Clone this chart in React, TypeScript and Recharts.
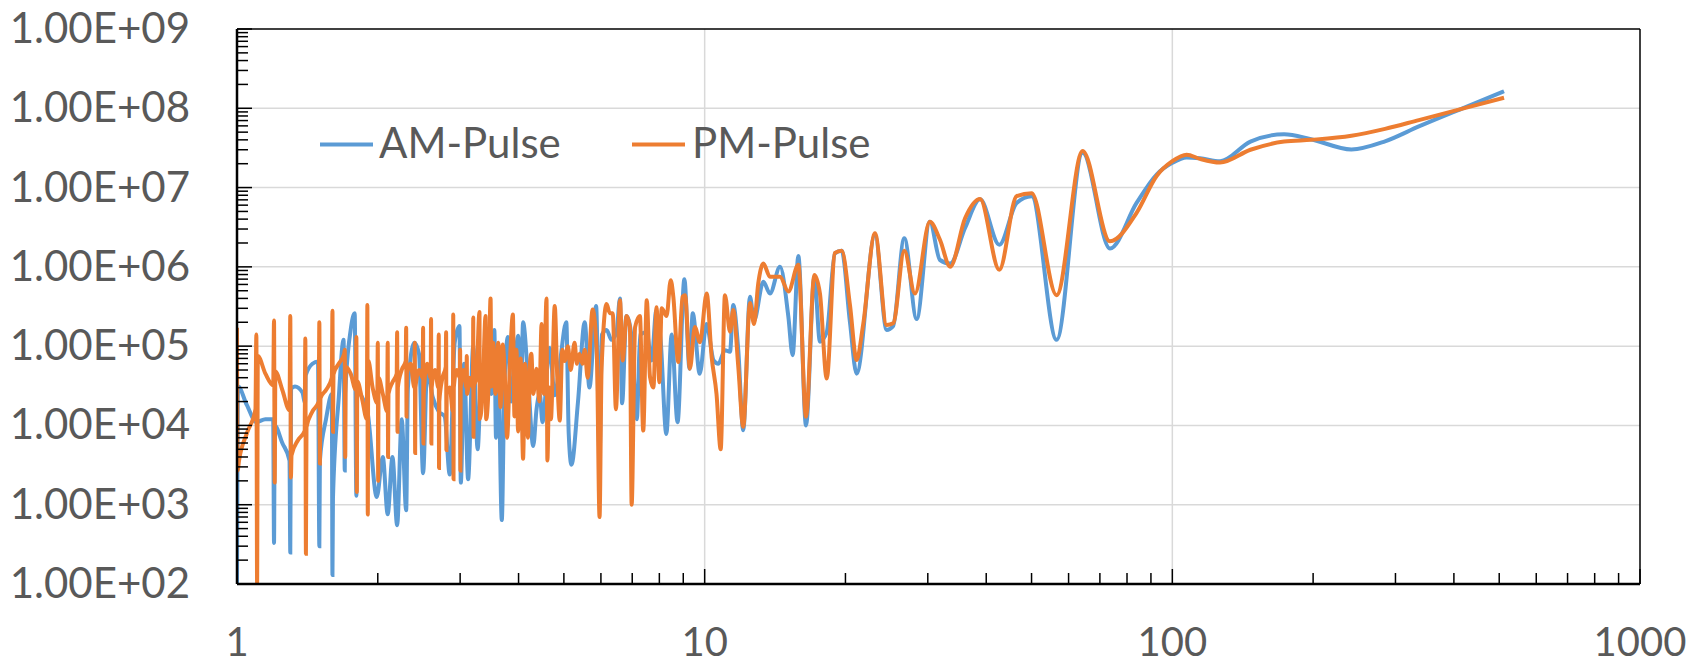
import React from 'react';
import {
  LineChart, Line, XAxis, YAxis, CartesianGrid, ReferenceLine, Legend
} from 'recharts';

// [x, value] pairs (log-log)
const amPulse: [number, number][] = [
  [1.0, 1e2], [1.002, 2.7e3], [1.005, 3.1e4], [1.05, 1.8e4], [1.1, 1.1e4], [1.15, 1.2e4],
  [1.195, 1.2e4], [1.2, 3.3e2], [1.204, 1e4], [1.25, 6e3], [1.295, 3.6e3], [1.3, 2.5e2],
  [1.305, 2.9e4], [1.33, 3.1e4], [1.38, 2.6e4], [1.398, 1.9e4], [1.403, 4.3e4], [1.45, 6e4],
  [1.49, 6.4e4], [1.5, 3e2], [1.504, 3.6e3], [1.55, 1.2e4], [1.595, 2.5e4], [1.6, 1.3e2],
  [1.604, 1.2e3], [1.65, 2.2e4], [1.69, 1.2e5], [1.7, 2.7e3], [1.704, 2.5e4], [1.75, 1.6e5],
  [1.785, 2.6e5], [1.8, 1.3e3], [1.806, 2.6e4], [1.9, 1.5e4], [1.99, 1.25e3], [2.05, 4e3],
  [2.1, 7.6e2], [2.15, 4e3], [2.2, 5.5e2], [2.25, 1.2e4], [2.3, 8.5e2], [2.32, 3e4],
  [2.394, 1.1e5], [2.45, 8e4], [2.5, 2.5e3], [2.55, 5e4], [2.62, 2.3e4], [2.7, 1.5e4],
  [2.78, 1.3e4], [2.85, 2.4e3], [2.92, 1.1e5], [2.99, 1.8e5], [3.01, 1.9e3], [3.06, 6e4],
  [3.12, 2.1e3], [3.2, 1e5], [3.27, 5e3], [3.33, 4e4], [3.39, 2.5e4], [3.44, 5e4],
  [3.5, 2.5e4], [3.55, 1.6e5], [3.58, 7e3], [3.62, 5e4], [3.683, 6.4e2], [3.73, 3e4],
  [3.796, 1.3e5], [3.86, 2e4], [3.93, 6e4], [3.99, 1.35e5], [4.05, 3e4], [4.09, 2e5],
  [4.19, 4e4], [4.3, 5.5e3], [4.37, 1.6e4], [4.44, 2.5e4], [4.5, 1.1e4], [4.66, 9.5e4],
  [4.78, 2.4e4], [4.9, 6e4], [5.06, 2e5], [5.12, 8e3], [5.19, 3.2e3], [5.36, 2e4],
  [5.54, 2e5], [5.67, 3e4], [5.86, 3.2e5], [5.96, 4e3], [6.03, 1.4e5], [6.17, 1.6e5],
  [6.32, 1.2e5], [6.48, 1.5e5], [6.59, 4e5], [6.66, 1.9e4], [6.8, 2.4e5], [6.98, 1.3e5],
  [7.16, 1.2e4], [7.28, 1.4e5], [7.51, 1.5e5], [7.7, 6.6e4], [7.88, 2.8e5], [8.05, 1.2e5],
  [8.28, 7.8e3], [8.5, 1.4e5], [8.75, 1.1e4], [9.05, 7e5], [9.28, 5.2e4], [9.43, 2.6e5],
  [9.76, 4.5e4], [10.09, 1.9e5], [10.45, 6.6e4], [10.7, 6e4], [11.05, 8.9e4], [11.33, 8.5e4],
  [11.51, 3.3e5], [11.8, 8.9e4], [12.09, 8.7e3], [12.5, 4.2e5], [12.75, 2.1e5], [13.35, 6.5e5],
  [13.79, 4.6e5], [14.49, 1e6], [15.1, 2.35e5], [15.42, 7.7e4], [15.86, 1.37e6], [16.47, 1e4],
  [17.16, 7.5e5], [17.64, 1.14e5], [18.24, 1.5e5], [18.99, 1.48e6], [19.63, 1.6e6], [20.45, 2e5],
  [21.13, 4.5e4], [23.13, 2.5e6], [24.5, 1.6e5], [25.3, 1.8e5], [26.72, 2.3e6], [28.4, 2.2e5],
  [30.3, 3.7e6], [31.85, 1.22e6], [33.5, 1.1e6], [36.04, 3.1e6], [38.8, 7.1e6], [42.66, 1.9e6],
  [46.46, 6.4e6], [50.03, 7.8e6], [56.56, 1.2e5], [64.3, 2.75e7], [73.56, 1.7e6], [83.86, 6.4e6],
  [92.55, 1.46e7], [100, 2.05e7], [107.3, 2.4e7], [114.6, 2.34e7], [126.5, 2.15e7], [146.9, 3.8e7],
  [173.4, 4.7e7], [197.9, 4.07e7], [241.5, 3.03e7], [285, 3.83e7], [336.6, 5.9e7], [417.5, 1e8],
  [512, 1.64e8],
];

const pmPulse: [number, number][] = [
  [1.0, 1.7e5], [1.003, 2.7e3], [1.01, 3.6e3], [1.05, 8e3], [1.095, 1.6e4], [1.1, 1.4e5],
  [1.104, 1e2], [1.108, 7.5e4], [1.15, 4.5e4], [1.195, 3.2e4], [1.2, 2.1e5], [1.204, 1.9e3],
  [1.208, 4.8e4], [1.25, 2.8e4], [1.295, 1.55e4], [1.3, 2.4e5], [1.304, 2.2e3], [1.308, 4.2e3],
  [1.35, 6.5e3], [1.395, 8.5e3], [1.4, 1.25e5], [1.404, 2.4e2], [1.408, 9.5e3], [1.45, 1.5e4],
  [1.495, 2e4], [1.5, 2e5], [1.504, 3.3e3], [1.508, 2.2e4], [1.55, 2.8e4], [1.595, 4e4],
  [1.6, 2.8e5], [1.604, 8.3e3], [1.608, 4.4e4], [1.65, 6e4], [1.695, 8e4], [1.7, 9e4],
  [1.704, 4e3], [1.708, 5.5e4], [1.75, 4.5e4], [1.795, 2.8e4], [1.8, 1.3e5], [1.804, 1.45e3],
  [1.808, 3.6e4], [1.85, 2.2e4], [1.895, 1.2e4], [1.9, 3.3e5], [1.904, 7.5e2], [1.908, 6.6e4],
  [1.95, 3e4], [1.995, 1.9e4], [2.0, 1.1e5], [2.004, 2e3], [2.008, 4e4], [2.05, 2.5e4],
  [2.095, 1.5e4], [2.1, 1.1e5], [2.104, 4e3], [2.108, 2.5e4], [2.15, 3.5e4], [2.195, 4.5e4],
  [2.2, 1.5e5], [2.204, 8.3e3], [2.208, 3e4], [2.25, 5e4], [2.295, 6.5e4], [2.3, 1.7e5],
  [2.304, 1.3e4], [2.308, 4.5e4], [2.35, 6e4], [2.395, 3e4], [2.4, 1.1e5], [2.404, 4.5e3],
  [2.408, 3e4], [2.45, 5e4], [2.495, 4e4], [2.5, 1.7e5], [2.504, 5.9e3], [2.508, 2.5e4],
  [2.55, 6e4], [2.595, 4e4], [2.6, 2.2e5], [2.604, 5.9e3], [2.608, 3e4], [2.65, 5e4],
  [2.695, 3e4], [2.7, 1.4e5], [2.704, 2.9e3], [2.708, 2e4], [2.75, 4e4], [2.795, 5.5e4],
  [2.8, 1.5e5], [2.804, 4.9e3], [2.808, 2.5e4], [2.85, 3e4], [2.895, 1.5e4], [2.9, 2.5e5],
  [2.904, 2.1e3], [2.908, 3e4], [2.95, 5e4], [2.995, 4e4], [3.0, 9e4], [3.004, 2.7e3],
  [3.008, 3e4], [3.05, 5e4], [3.095, 3e4], [3.1, 7.5e4], [3.104, 2.5e4], [3.15, 4e4],
  [3.195, 3e4], [3.2, 2.3e5], [3.204, 7.2e3], [3.208, 3e4], [3.25, 4e4], [3.3, 2.7e5],
  [3.304, 1.2e4], [3.35, 2.5e4], [3.4, 2.4e5], [3.41, 1.2e4], [3.45, 3e4], [3.485, 4e5],
  [3.5, 3.1e4], [3.53, 1.1e5], [3.57, 2.5e4], [3.62, 1.1e5], [3.66, 1.7e4], [3.7, 1.05e5],
  [3.74, 4e4], [3.78, 7e3], [3.84, 8e4], [3.89, 2.5e5], [3.92, 1.3e4], [3.96, 9e4],
  [3.99, 8.4e3], [4.04, 7e4], [4.09, 3.8e3], [4.13, 6e4], [4.19, 7e3], [4.23, 6e4],
  [4.26, 8e4], [4.3, 2.5e4], [4.37, 5.2e4], [4.43, 2e4], [4.48, 1.9e5], [4.53, 2.5e4],
  [4.59, 4e5], [4.61, 3.6e3], [4.65, 3e4], [4.69, 1.2e4], [4.78, 3.2e5], [4.84, 4e4],
  [4.9, 1.15e4], [4.96, 9e4], [5.02, 6.5e4], [5.1, 1e5], [5.17, 5e4], [5.27, 1.1e5],
  [5.33, 6e4], [5.4, 8e4], [5.48, 6e4], [5.54, 9e4], [5.62, 4e4], [5.76, 2.9e5],
  [5.88, 8e4], [5.96, 7e2], [6.02, 5.2e4], [6.17, 3.4e5], [6.27, 2.6e5], [6.36, 2.6e5],
  [6.46, 1.6e4], [6.59, 3.8e5], [6.68, 6.6e4], [6.81, 2.4e5], [6.92, 1.74e5], [6.98, 1e3],
  [7.1, 1.74e5], [7.27, 2.4e5], [7.39, 8.6e3], [7.52, 3.8e5], [7.64, 4.1e4], [7.77, 3e4],
  [7.89, 3.1e5], [8.0, 3.5e4], [8.09, 3e5], [8.29, 2.4e5], [8.46, 6.8e5], [8.57, 4.2e5],
  [8.78, 6.3e4], [8.97, 4.2e5], [9.08, 4.4e5], [9.3, 5.2e4], [9.53, 1.74e5], [9.77, 1.12e5],
  [10.1, 4.6e5], [10.35, 7.3e4], [10.6, 2.5e4], [10.82, 5e3], [11.05, 4.4e5], [11.33, 1.52e5],
  [11.51, 2.86e5], [11.8, 5.5e4], [12.09, 9.6e3], [12.5, 3.5e5], [12.75, 1.9e5], [13.02, 6.2e5],
  [13.35, 1.1e6], [13.79, 7.5e5], [14.49, 7.5e5], [15.1, 4.9e5], [15.86, 1.06e6], [16.47, 1.29e4],
  [17.16, 7.9e5], [17.64, 4.6e5], [18.24, 3.9e4], [18.99, 1.5e6], [19.63, 1.6e6], [20.45, 3.3e5],
  [21.13, 6.7e4], [21.83, 1.9e5], [23.13, 2.65e6], [24.5, 1.85e5], [25.3, 1.94e5], [26.72, 1.6e6],
  [28.16, 4.6e5], [30.3, 3.7e6], [31.85, 2.2e6], [33.5, 1e6], [36.04, 4.1e6], [38.8, 7.2e6],
  [42.66, 9.2e5], [46.46, 7.8e6], [50.03, 8.5e6], [56.56, 4.4e5], [64.3, 2.9e7], [73.56, 2.1e6],
  [83.86, 4.8e6], [92.55, 1.4e7], [100, 2.15e7], [107.3, 2.6e7], [114.6, 2.3e7], [126.5, 2.07e7],
  [146.9, 3e7], [173.4, 3.8e7], [197.9, 4e7], [241.5, 4.5e7], [285, 5.5e7], [336.6, 7.1e7],
  [417.5, 9.9e7], [512, 1.36e8],
];

const xMajor = [1, 10, 100, 1000];
const xLabels = ['1', '10', '100', '1000'];
const yMajor = [1e2, 1e3, 1e4, 1e5, 1e6, 1e7, 1e8, 1e9];
const yLabels = ['1.00E+02', '1.00E+03', '1.00E+04', '1.00E+05', '1.00E+06', '1.00E+07', '1.00E+08', '1.00E+09'];

// major + minor (2..9) ticks per decade
const withMinors = (majors: number[]) => {
  const out: number[] = [];
  majors.forEach((m, i) => {
    out.push(m);
    if (i < majors.length - 1) for (let k = 2; k <= 9; k++) out.push(m * k);
  });
  return out;
};
const xTicks = withMinors(xMajor);
const yTicks = withMinors(yMajor);

const amData = amPulse.map(([x, y]) => ({ x, y }));
const pmData = pmPulse.map(([x, y]) => ({ x, y }));

const FONT = 'Lato, "Open Sans", sans-serif';
const TEXT = '#595959';

const XTick = (props: any) => {
  const { x, y, payload } = props;
  const i = xMajor.indexOf(payload.value);
  const len = i >= 0 ? 15 : 11;
  return (
    <g>
      <line x1={x} y1={y} x2={x} y2={y - len} stroke="#000" strokeWidth={1.5} />
      {i >= 0 && (
        <text x={x} y={y + 72} textAnchor="middle" fontSize={40} fill={TEXT} fontFamily={FONT}>
          {xLabels[i]}
        </text>
      )}
    </g>
  );
};

const YTick = (props: any) => {
  const { x, y, payload } = props;
  const i = yMajor.indexOf(payload.value);
  const len = i >= 0 ? 15 : 11;
  return (
    <g>
      <line x1={x} y1={y} x2={x + len} y2={y} stroke="#000" strokeWidth={1.5} />
      {i >= 0 && (
        <text x={x - 47} y={y + 14} textAnchor="end" fontSize={42} fill={TEXT} fontFamily={FONT}>
          {yLabels[i]}
        </text>
      )}
    </g>
  );
};

const legendLineX = [320, 632];
const legendTextX = [379, 692];

const renderLegend = (props: any) => {
  const { payload = [] } = props;
  return (
    <svg width={1692} height={200} style={{ position: 'absolute', left: 0, top: 0, overflow: 'visible' }}>
      {payload.map((p: any, i: number) => (
        <g key={p.value}>
          <line x1={legendLineX[i]} x2={legendLineX[i] + 53} y1={144.5} y2={144.5} stroke={p.color} strokeWidth={4} />
          <text x={legendTextX[i]} y={157.5} fontSize={42} fill={TEXT} fontFamily={FONT}>{p.value}</text>
        </g>
      ))}
    </svg>
  );
};

export default function App() {
  return (
    <div style={{ position: 'absolute', left: 0, top: 0, background: '#fff' }}>
      <LineChart width={1692} height={664} margin={{ top: 29, right: 52, bottom: 0, left: 0 }}>
        <CartesianGrid
          stroke="#D9D9D9"
          strokeWidth={1.5}
          horizontalValues={[1e3, 1e4, 1e5, 1e6, 1e7, 1e8]}
          verticalValues={[10, 100]}
        />
        <XAxis
          type="number"
          dataKey="x"
          scale="log"
          domain={[1, 1000]}
          allowDataOverflow
          ticks={xTicks}
          interval={0}
          tick={XTick}
          tickLine={false}
          tickSize={0}
          tickMargin={0}
          axisLine={{ stroke: '#000', strokeWidth: 2.5 }}
          height={80}
        />
        <YAxis
          type="number"
          scale="log"
          domain={[100, 1e9]}
          allowDataOverflow
          ticks={yTicks}
          interval={0}
          tick={YTick}
          tickLine={false}
          tickSize={0}
          tickMargin={0}
          axisLine={{ stroke: '#000', strokeWidth: 2.5 }}
          width={237}
        />
        <ReferenceLine y={1e9} stroke="#000" strokeWidth={1.5} ifOverflow="visible" />
        <ReferenceLine x={1000} stroke="#000" strokeWidth={1.5} ifOverflow="visible" />
        <Legend
          layout="vertical"
          align="center"
          verticalAlign="middle"
          wrapperStyle={{ left: 0, top: 0, width: 1692, height: 0 }}
          content={renderLegend}
        />
        <Line
          name="AM-Pulse"
          data={amData}
          dataKey="y"
          type="monotone"
          stroke="#5B9BD5"
          strokeWidth={4}
          dot={false}
          activeDot={false}
          isAnimationActive={false}
        />
        <Line
          name="PM-Pulse"
          data={pmData}
          dataKey="y"
          type="monotone"
          stroke="#ED7D31"
          strokeWidth={4}
          dot={false}
          activeDot={false}
          isAnimationActive={false}
        />
      </LineChart>
    </div>
  );
}
